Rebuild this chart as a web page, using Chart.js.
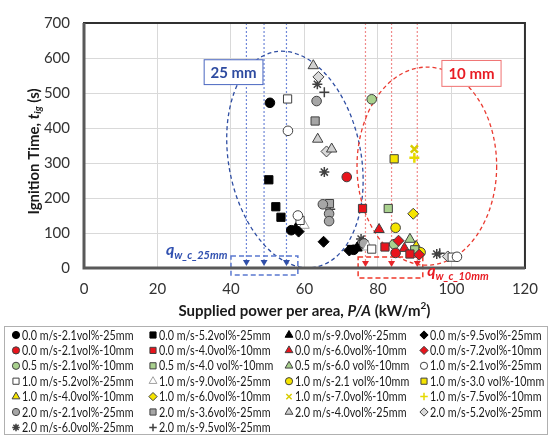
<!DOCTYPE html>
<html>
<head>
<meta charset="utf-8">
<script src="https://cdn.jsdelivr.net/npm/chart.js@4.4.1/dist/chart.umd.min.js"></script>
<style>
  html, body { margin: 0; padding: 0; background: #fff; }
  #wrap { width: 550px; height: 436px; }
</style>
</head>
<body>
<div id="wrap"><canvas id="chart" width="550" height="436"></canvas></div>
<script>
// series names, in legend order
const seriesLabels = [
  '0.0 m/s-2.1vol%-25mm', '0.0 m/s-5.2vol%-25mm', '0.0 m/s-9.0vol%-25mm', '0.0 m/s-9.5vol%-25mm',
  '0.0 m/s-2.1vol%-10mm', '0.0 m/s-4.0vol%-10mm', '0.0 m/s-6.0vol%-10mm', '0.0 m/s-7.2vol%-10mm',
  '0.5 m/s-2.1vol%-10mm', '0.5 m/s-4.0 vol%-10mm', '0.5 m/s-6.0 vol%-10mm', '1.0 m/s-2.1vol%-25mm',
  '1.0 m/s-5.2vol%-25mm', '1.0 m/s-9.0vol%-25mm', '1.0 m/s-2.1 vol%-10mm', '1.0 m/s-3.0 vol%-10mm',
  '1.0 m/s-4.0vol%-10mm', '1.0 m/s-6.0vol%-10mm', '1.0 m/s-7.0vol%-10mm', '1.0 m/s-7.5vol%-10mm',
  '2.0 m/s-2.1vol%-25mm', '2.0 m/s-3.6vol%-25mm', '2.0 m/s-4.0vol%-25mm', '2.0 m/s-5.2vol%-25mm',
  '2.0 m/s-6.0vol%-25mm', '2.0 m/s-9.5vol%-25mm'
];

// supplied power per area P/A (kW/m2), one list per series
const powerValues = [
  [50.6, 56.4, 73.4], [50.3, 52.2, 53.6, 72.8], [57.6, 74.3], [58.4, 65.2, 72.2],
  [71.5, 84.8], [75.8, 81.9, 88.7], [80.3, 87.2], [85.6, 91.2],
  [78.3, 84.4], [82.8, 90.0], [88.7], [55.5, 58.2, 101.5],
  [55.4, 58.8, 78.3, 100.2], [59.9, 77.2], [84.8, 91.6], [84.4],
  [90.4], [89.6], [89.9], [89.9],
  [63.3, 65.0, 66.7, 66.7, 76.2], [62.9, 66.8, 75.6], [62.4, 63.6, 67.4], [63.8, 66.0, 99.0],
  [63.5, 65.4, 75.4, 96.0], [65.4, 67.0, 76.0, 96.8]
];

// ignition time t_ig (s), one list per series
const ignitionTimes = [
  [472, 108, 52], [252, 175, 145, 53], [112, 57], [104, 75, 50],
  [260, 43], [170, 60, 40], [110, 56], [78, 38],
  [482, 68], [170, 52], [82], [392, 150, 32],
  [483, 136, 54, 31], [122, 60], [115, 45], [312],
  [62], [155], [340], [315],
  [477, 182, 155, 134, 70], [420, 184, 66], [578, 368, 340], [546, 333, 33],
  [525, 274, 83, 40], [502, 168, 78, 42]
];

// critical power lines (kW/m2)
const qwc25 = [44.2, 49.0, 55.1];
const qwc10 = [76.6, 83.7, 90.7];

const xTicks = [0, 20, 40, 60, 80, 100, 120];
const yTicks = [0, 100, 200, 300, 400, 500, 600, 700];

// marker styles
const pointStyles = [
  'circle', 'rect', 'triangle', 'rectRot',
  'circle', 'rect', 'triangle', 'rectRot',
  'circle', 'rect', 'triangle', 'circle',
  'rect', 'triangle', 'circle', 'rect',
  'triangle', 'rectRot', 'crossRot', 'cross',
  'circle', 'rect', 'triangle', 'rectRot',
  'star', 'cross'
];
const RED = '#e8141c', GREEN = '#a9d18e', YEL = '#f5e400', GREY = '#a6a6a6', DK = '#404040';
const fillColors = [
  '#000', '#000', '#000', '#000',
  RED, RED, RED, RED,
  GREEN, GREEN, GREEN, '#fff',
  '#fff', '#fff', YEL, YEL,
  YEL, YEL, YEL, YEL,
  GREY, GREY, '#d0d0d0', '#d9d9d9',
  DK, DK
];
const borderColors = [
  '#000', '#000', '#000', '#000',
  DK, DK, DK, DK,
  DK, DK, DK, DK,
  DK, '#a0a0a0', DK, DK,
  DK, DK, '#d8cc00', '#e6da00',
  DK, DK, DK, DK,
  DK, DK
];

function radiusFor(style) {
  if (style === 'rect') return 5.8;
  if (style === 'triangle') return 6;
  if (style === 'rectRot') return 5.5;
  if (style === 'circle') return 4.8;
  return 5;
}
function borderWidthFor(i) {
  if (i === 18 || i === 19) return 2.5;
  if (pointStyles[i] === 'star' || pointStyles[i] === 'cross' || pointStyles[i] === 'crossRot') return 1.5;
  return 1;
}

const datasets = seriesLabels.map((label, i) => ({
  label: label,
  data: powerValues[i].map((x, j) => ({ x: x, y: ignitionTimes[i][j] })),
  pointStyle: pointStyles[i],
  pointRadius: radiusFor(pointStyles[i]),
  pointHoverRadius: radiusFor(pointStyles[i]),
  backgroundColor: fillColors[i],
  borderColor: borderColors[i],
  borderWidth: borderWidthFor(i),
  showLine: false
}));

const FONT = 'Lato, "Open Sans", sans-serif';

function drawRich(ctx, parts, x, y, align) {
  let w = 0;
  parts.forEach(p => { ctx.font = p.font; w += ctx.measureText(p.text).width; });
  let cx = align === 'center' ? x - w / 2 : x;
  parts.forEach(p => {
    ctx.font = p.font;
    ctx.fillText(p.text, cx, y + (p.dy || 0));
    cx += ctx.measureText(p.text).width;
  });
}

function arrowDown(ctx, x, yTip, color) {
  ctx.save();
  ctx.fillStyle = color;
  ctx.beginPath();
  ctx.moveTo(x, yTip);
  ctx.lineTo(x - 3.5, yTip - 6);
  ctx.lineTo(x + 3.5, yTip - 6);
  ctx.closePath();
  ctx.fill();
  ctx.restore();
}

const annotations = {
  id: 'annotations',
  beforeDatasetsDraw(chart) {
    const { ctx, chartArea: a, scales: { x, y } } = chart;
    ctx.save();

    // vertical dotted lines with arrows
    ctx.lineWidth = 1.2;
    ctx.setLineDash([2, 2]);
    qwc25.forEach(v => {
      const px = x.getPixelForValue(v);
      ctx.strokeStyle = '#7088d8';
      ctx.beginPath(); ctx.moveTo(px, a.top); ctx.lineTo(px, a.bottom - 4); ctx.stroke();
    });
    qwc10.forEach(v => {
      const px = x.getPixelForValue(v);
      ctx.strokeStyle = '#f08a8a';
      ctx.beginPath(); ctx.moveTo(px, a.top); ctx.lineTo(px, a.bottom - 4); ctx.stroke();
    });
    ctx.setLineDash([]);
    qwc25.forEach(v => arrowDown(ctx, x.getPixelForValue(v), a.bottom - 2, '#2f4ea8'));
    qwc10.forEach(v => arrowDown(ctx, x.getPixelForValue(v), a.bottom - 1, '#e8252a'));

    // ellipses
    ctx.lineWidth = 1.3;
    ctx.setLineDash([4, 3]);
    let cx = x.getPixelForValue(57.4), cy = y.getPixelForValue(310);
    let rx = x.getPixelForValue(57.4 + 18) - cx, ry = cy - y.getPixelForValue(310 + 313);
    ctx.strokeStyle = '#2f4ea3';
    ctx.beginPath(); ctx.ellipse(cx, cy, rx, ry, -11 * Math.PI / 180, 0, Math.PI * 2); ctx.stroke();

    cx = x.getPixelForValue(93.3); cy = y.getPixelForValue(291);
    rx = x.getPixelForValue(93.3 + 19) - cx; ry = cy - y.getPixelForValue(291 + 283);
    ctx.strokeStyle = '#ea3a30';
    ctx.beginPath(); ctx.ellipse(cx, cy, rx, ry, 0, 0, Math.PI * 2); ctx.stroke();

    // dashed boxes round arrows
    ctx.lineWidth = 1.5;
    ctx.setLineDash([5, 3]);
    ctx.strokeStyle = '#5a78d0';
    let x0 = x.getPixelForValue(40), x1 = x.getPixelForValue(58.2);
    ctx.strokeRect(x0, a.bottom - 12, x1 - x0, 19);
    ctx.strokeStyle = '#f0392b';
    x0 = x.getPixelForValue(74.6); x1 = x.getPixelForValue(92.2);
    ctx.strokeRect(x0, a.bottom - 11, x1 - x0, 21);
    ctx.setLineDash([]);
    ctx.restore();
  },
  afterDraw(chart) {
    const { ctx, chartArea: a, scales: { x, y } } = chart;
    ctx.save();

    // plot border
    ctx.strokeStyle = '#303030';
    ctx.lineWidth = 2;
    ctx.strokeRect(a.left, a.top, a.right - a.left, a.bottom - a.top);
    ctx.strokeStyle = '#595959';
    ctx.lineWidth = 3;
    ctx.beginPath();
    ctx.moveTo(a.left, a.top); ctx.lineTo(a.left, a.bottom); ctx.lineTo(a.right, a.bottom);
    ctx.stroke();

    // size labels
    function labelBox(x0v, y0v, x1v, y1v, text, color, border) {
      const bx0 = x.getPixelForValue(x0v), bx1 = x.getPixelForValue(x1v);
      const by0 = y.getPixelForValue(y0v), by1 = y.getPixelForValue(y1v);
      ctx.fillStyle = '#fff';
      ctx.fillRect(bx0, by0, bx1 - bx0, by1 - by0);
      ctx.strokeStyle = border;
      ctx.lineWidth = 1;
      ctx.strokeRect(bx0, by0, bx1 - bx0, by1 - by0);
      ctx.fillStyle = color;
      ctx.font = 'bold 15px ' + FONT;
      ctx.textAlign = 'center';
      ctx.textBaseline = 'middle';
      ctx.fillText(text, (bx0 + bx1) / 2, (by0 + by1) / 2 + 1);
    }
    labelBox(32.7, 595, 48.7, 524, '25 mm', '#2e4ba0', '#4a66c0');
    labelBox(97.4, 593, 113.5, 519, '10 mm', '#e81c24', '#f07070');

    // q labels
    ctx.textAlign = 'left';
    ctx.textBaseline = 'alphabetic';
    ctx.fillStyle = '#3050b0';
    drawRich(ctx, [
      { text: 'q', font: 'italic bold 16px ' + FONT },
      { text: 'w_c_25mm', font: 'italic bold 11px ' + FONT, dy: 4 }
    ], x.getPixelForValue(22.3), y.getPixelForValue(38), 'left');
    ctx.fillStyle = '#e81c24';
    drawRich(ctx, [
      { text: 'q', font: 'italic bold 16px ' + FONT },
      { text: 'w_c_10mm', font: 'italic bold 11px ' + FONT, dy: 4 }
    ], x.getPixelForValue(93.4), y.getPixelForValue(-22), 'left');

    // axis titles
    ctx.fillStyle = '#1a1a1a';
    ctx.textBaseline = 'middle';
    drawRich(ctx, [
      { text: 'Supplied power per area, ', font: 'bold 15px ' + FONT },
      { text: 'P/A', font: 'italic bold 15px ' + FONT },
      { text: ' (kW/m', font: 'bold 15px ' + FONT },
      { text: '2', font: 'bold 10px ' + FONT, dy: -5 },
      { text: ')', font: 'bold 15px ' + FONT }
    ], (a.left + a.right) / 2, 311, 'center');

    ctx.save();
    ctx.translate(34, (a.top + a.bottom) / 2 + 6);
    ctx.rotate(-Math.PI / 2);
    drawRich(ctx, [
      { text: 'Ignition Time, ', font: 'bold 15px ' + FONT },
      { text: 't', font: 'italic bold 15px ' + FONT },
      { text: 'ig', font: 'italic bold 10px ' + FONT, dy: 4 },
      { text: ' (s)', font: 'bold 15px ' + FONT }
    ], 0, 0, 'center');
    ctx.restore();

    // legend
    ctx.strokeStyle = '#b0b0b0';
    ctx.lineWidth = 1;
    ctx.strokeRect(4.5, 326.5, 543, 108);
    const colX = [16, 153, 289, 424];
    const rowY0 = 335, rowH = 15.4;
    ctx.textAlign = 'left';
    ctx.textBaseline = 'middle';
    chart.data.datasets.forEach((ds, i) => {
      const cx = colX[i % 4], cy = rowY0 + Math.floor(i / 4) * rowH;
      ctx.fillStyle = ds.backgroundColor;
      ctx.strokeStyle = ds.borderColor;
      ctx.lineWidth = Math.min(ds.borderWidth, 1.5);
      Chart.helpers.drawPoint(ctx, { pointStyle: ds.pointStyle, radius: ds.pointRadius * 0.75, rotation: 0, borderWidth: ctx.lineWidth }, cx, cy);
      ctx.save();
      ctx.translate(cx + 6, cy + 0.5);
      ctx.scale(0.86, 1);
      ctx.fillStyle = '#1a1a1a';
      ctx.font = '12.5px ' + FONT;
      ctx.fillText(ds.label, 0, 0);
      ctx.restore();
    });
    ctx.restore();
  }
};

new Chart(document.getElementById('chart').getContext('2d'), {
  type: 'scatter',
  data: { datasets: datasets },
  options: {
    responsive: false,
    animation: false,
    layout: { padding: { top: 13, right: 25, left: 0, bottom: 0 } },
    plugins: {
      legend: { display: false },
      tooltip: { enabled: false }
    },
    scales: {
      x: {
        type: 'linear',
        min: 0,
        max: 120,
        afterFit(s) { s.height = 168; },
        afterBuildTicks(s) { s.ticks = xTicks.map(v => ({ value: v })); },
        ticks: { color: '#333', font: { family: FONT, size: 15 }, padding: 12 },
        grid: { color: '#d9d9d9', drawTicks: false },
        border: { display: false }
      },
      y: {
        min: 0,
        max: 700,
        afterFit(s) { s.width = 84; },
        afterBuildTicks(s) { s.ticks = yTicks.map(v => ({ value: v })); },
        ticks: { color: '#333', font: { family: FONT, size: 15 }, padding: 14 },
        grid: { color: '#d9d9d9', drawTicks: false },
        border: { display: false }
      }
    }
  },
  plugins: [annotations]
});
</script>
</body>
</html>
